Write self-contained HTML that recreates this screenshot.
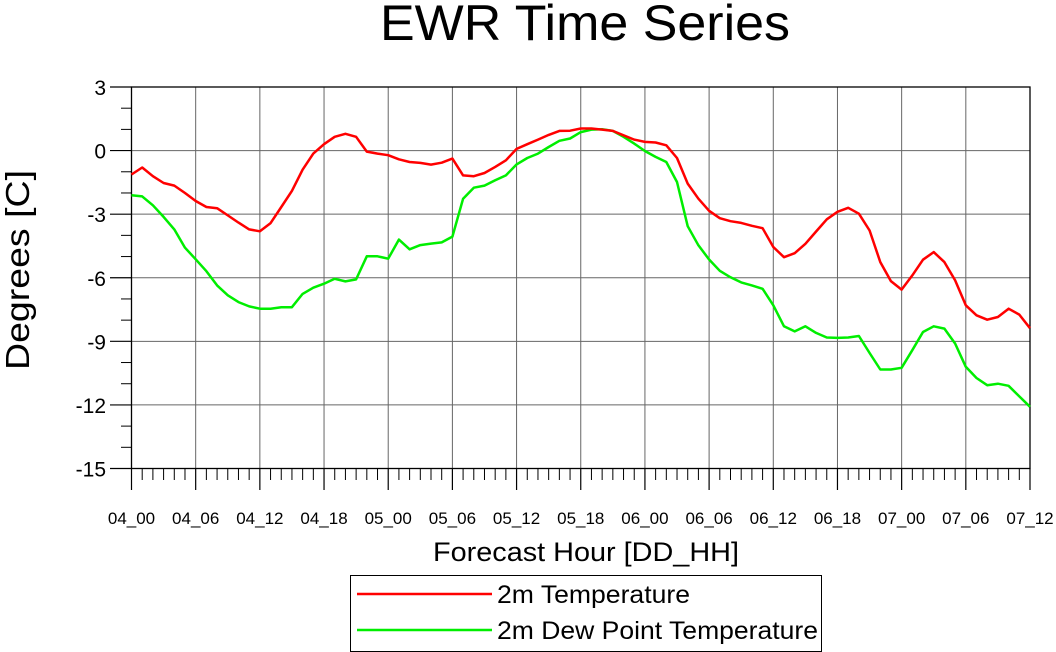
<!DOCTYPE html>
<html><head><meta charset="utf-8"><style>
html,body{margin:0;padding:0;background:#fff;}
svg{display:block;font-family:"Liberation Sans",sans-serif;}
</style></head><body>
<svg id="chart" width="1056" height="652" viewBox="0 0 1056 652" xmlns="http://www.w3.org/2000/svg">
<text x="380" y="40" font-size="50" textLength="410" lengthAdjust="spacingAndGlyphs">EWR Time Series</text>
<g id="grid"></g>
<g id="axes"></g>
<g id="series"></g>
<text x="433" y="561" font-size="27" textLength="306" lengthAdjust="spacingAndGlyphs">Forecast Hour [DD_HH]</text>
<text transform="translate(29,370) rotate(-90)" font-size="33" textLength="200" lengthAdjust="spacingAndGlyphs">Degrees [C]</text>
<g>
<rect x="350.5" y="575.5" width="471" height="76" fill="none" stroke="#000" stroke-width="1"/>
<g>
<line x1="357" y1="594" x2="492" y2="594" stroke="#ff0000" stroke-width="2.5"/>
<text x="497" y="603" font-size="25" textLength="193" lengthAdjust="spacingAndGlyphs">2m Temperature</text></g>
<g>
<line x1="357" y1="630" x2="492" y2="630" stroke="#00ee00" stroke-width="2.5"/>
<text x="497" y="639" font-size="25" textLength="321" lengthAdjust="spacingAndGlyphs">2m Dew Point Temperature</text></g>
</g>
</svg>
<script>
const xTickLabels = ["04_00","04_06","04_12","04_18","05_00","05_06","05_12","05_18","06_00","06_06","06_12","06_18","07_00","07_06","07_12"];
const yTickValues = [3,0,-3,-6,-9,-12,-15];
const tempValues = [-1.13,-0.8,-1.21,-1.53,-1.65,-2.0,-2.38,-2.66,-2.72,-3.06,-3.4,-3.72,-3.81,-3.42,-2.66,-1.9,-0.9,-0.14,0.3,0.65,0.79,0.65,-0.05,-0.14,-0.22,-0.41,-0.54,-0.58,-0.66,-0.57,-0.38,-1.17,-1.21,-1.06,-0.77,-0.46,0.08,0.3,0.52,0.74,0.93,0.94,1.04,1.04,0.99,0.93,0.72,0.52,0.41,0.38,0.25,-0.35,-1.56,-2.27,-2.84,-3.19,-3.33,-3.41,-3.55,-3.66,-4.55,-5.03,-4.84,-4.4,-3.82,-3.24,-2.89,-2.7,-2.98,-3.77,-5.26,-6.16,-6.56,-5.89,-5.15,-4.79,-5.26,-6.12,-7.3,-7.77,-7.98,-7.85,-7.46,-7.74,-8.38];
const dewValues = [-2.11,-2.16,-2.58,-3.13,-3.72,-4.58,-5.13,-5.69,-6.36,-6.83,-7.15,-7.35,-7.46,-7.46,-7.39,-7.39,-6.76,-6.47,-6.28,-6.05,-6.17,-6.08,-4.99,-4.99,-5.1,-4.2,-4.66,-4.46,-4.39,-4.33,-4.06,-2.27,-1.75,-1.65,-1.4,-1.17,-0.65,-0.35,-0.14,0.17,0.46,0.57,0.87,0.99,1.01,0.93,0.65,0.33,-0.02,-0.3,-0.54,-1.48,-3.57,-4.47,-5.14,-5.67,-5.98,-6.22,-6.36,-6.52,-7.3,-8.29,-8.53,-8.29,-8.6,-8.82,-8.84,-8.82,-8.75,-9.55,-10.33,-10.33,-10.25,-9.42,-8.56,-8.29,-8.4,-9.1,-10.2,-10.73,-11.07,-11.0,-11.1,-11.6,-12.09];

const NS="http://www.w3.org/2000/svg";
const X0=131.5,X1=1030,Y0=468.5,Y1=87;
const hoursMax=(xTickLabels.length-1)*6;
const xs=h=>X0+(X1-X0)*h/hoursMax;
const ys=v=>Y0-(Y0-Y1)*(v+15)/18;
function mk(tag,attrs,parent){const e=document.createElementNS(NS,tag);for(const k in attrs)e.setAttribute(k,attrs[k]);parent.appendChild(e);return e;}
const grid=document.getElementById('grid'),axes=document.getElementById('axes'),series=document.getElementById('series');
xTickLabels.forEach((lab,i)=>{
  const x=xs(i*6);
  const gl=mk('line',{x1:x,y1:Y1,x2:x,y2:Y0,stroke:'#666','stroke-width':1},grid);
  
  
  const t=mk('line',{x1:x,y1:Y0,x2:x,y2:490,stroke:'#000','stroke-width':1.2},axes);
  
  
  const tx=mk('text',{x:x,y:524,'font-size':17,'text-anchor':'middle'},axes);
  tx.textContent=lab;
  
  
});
for(let h=0;h<=hoursMax;h++){ if(h%6===0) continue;
  const x=xs(h);
  const t=mk('line',{x1:x,y1:Y0,x2:x,y2:480,stroke:'#000','stroke-width':1},axes);
  
  
}
yTickValues.forEach(v=>{
  const y=ys(v);
  const gl=mk('line',{x1:X0,y1:y,x2:X1,y2:y,stroke:'#666','stroke-width':1},grid);
  
  
  const t=mk('line',{x1:110,y1:y,x2:X0,y2:y,stroke:'#000','stroke-width':1.2},axes);
  
  
  const tx=mk('text',{x:106,y:y+8,'font-size':21,'text-anchor':'end'},axes);
  tx.textContent=String(v);
  
  
});
for(let v=-15;v<=3;v++){ if(v%3===0) continue;
  const y=ys(v);
  const t=mk('line',{x1:121,y1:y,x2:X0,y2:y,stroke:'#000','stroke-width':1},axes);
  
  
}
const fr=mk('rect',{x:X0,y:Y1,width:X1-X0,height:Y0-Y1,fill:'none',stroke:'#000','stroke-width':1.3},axes);


function line(vals,color,name){
  const d=vals.map((v,i)=>(i?'L':'M')+xs(i).toFixed(1)+' '+ys(v).toFixed(1)).join(' ');
  const p=mk('path',{d:d,fill:'none',stroke:color,'stroke-width':2.5,'stroke-linejoin':'round'},series);
  
  
}
line(dewValues,'#00ee00','dew-point-line');
line(tempValues,'#ff0000','temperature-line');
</script>
</body></html>
